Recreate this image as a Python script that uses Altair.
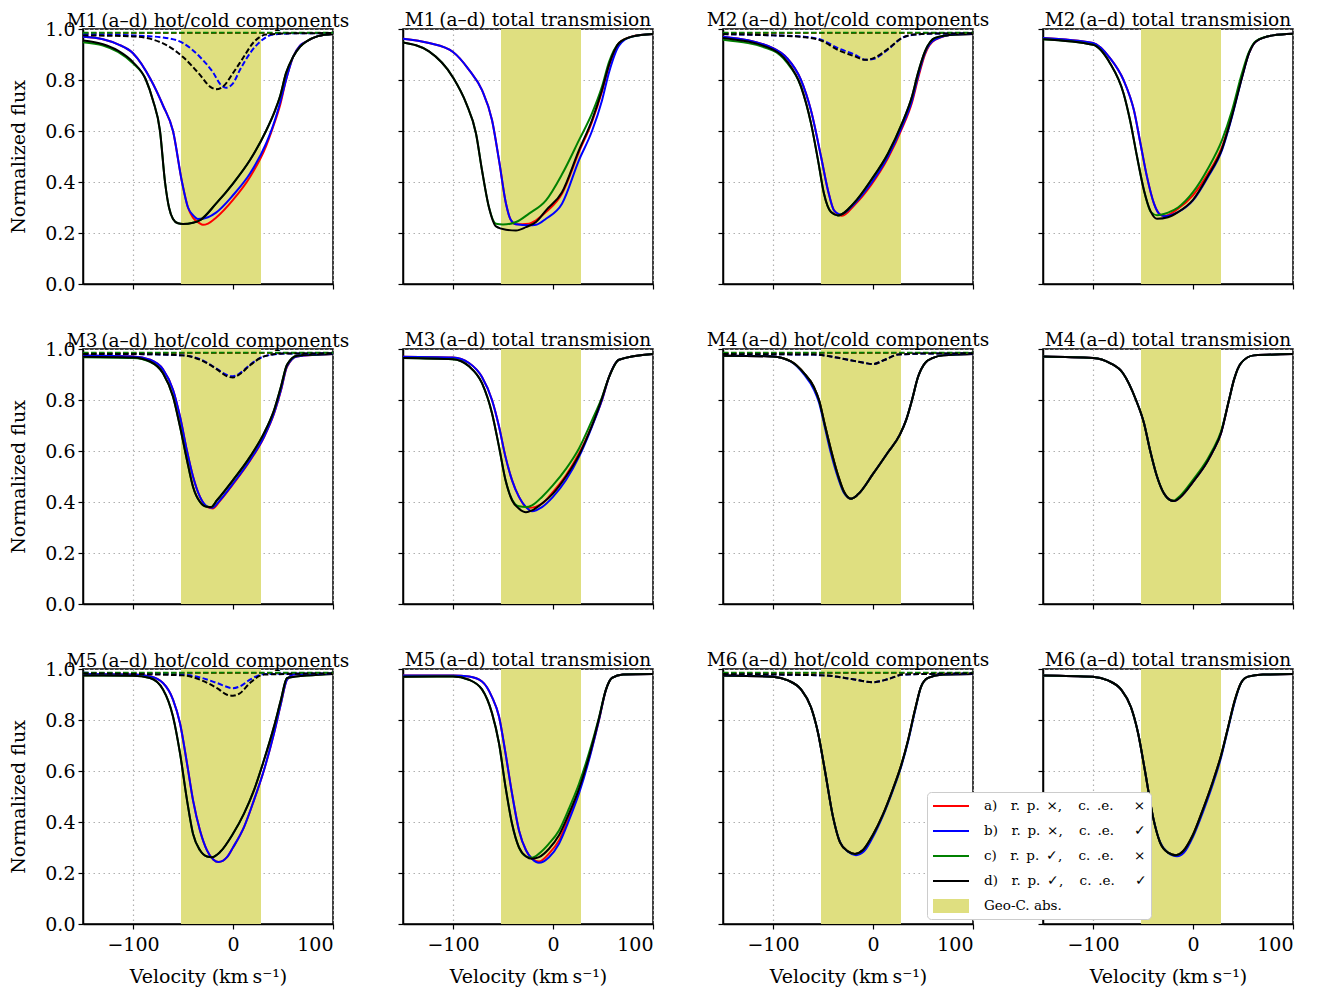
import altair as alt
import pandas as pd

# ---------------- data ----------------
VEL_RANGE = [-150, 100]
FLUX_RANGE = [0.0, 1.0]
GEO_BAND = [-52, 28]
X_TICKS = [-100, 0, 100]
Y_TICKS = [0.0, 0.2, 0.4, 0.6, 0.8, 1.0]

EM, EN, TH = "\u2003", "\u2002", "\u2009"
SERIES = [
    "a)" + EM + "r." + EN + "p." + EN + "\u00d7," + EM + TH + "c." + EN + ".e." + EM + EN + "\u00d7",
    "b)" + EM + "r." + EN + "p." + EN + "\u00d7," + EM + TH + "c." + EN + ".e." + EM + EN + "\u2713",
    "c)" + EM + "r." + EN + "p." + EN + "\u2713," + EM + TH + "c." + EN + ".e." + EM + EN + "\u00d7",
    "d)" + EM + "r." + EN + "p." + EN + "\u2713," + EM + TH + "c." + EN + ".e." + EM + EN + "\u2713",
]
GEO_LABEL = "Geo-C. abs."
COLORS = ["#ff0000", "#0000ff", "#008000", "#000000", "#dfdf80"]
SHAPES = ["M-1.8,0H1.8", "M-1.8,0H1.8", "M-1.8,0H1.8", "M-1.8,0H1.8", "M-1.7,-0.6H1.7V0.6H-1.7Z"]

TITLES = [
    "M1\u2009(a\u2013d) hot/cold components", "M1\u2009(a\u2013d) total transmision",
    "M2\u2009(a\u2013d) hot/cold components", "M2\u2009(a\u2013d) total transmision",
    "M3\u2009(a\u2013d) hot/cold components", "M3\u2009(a\u2013d) total transmision",
    "M4\u2009(a\u2013d) hot/cold components", "M4\u2009(a\u2013d) total transmision",
    "M5\u2009(a\u2013d) hot/cold components", "M5\u2009(a\u2013d) total transmision",
    "M6\u2009(a\u2013d) hot/cold components", "M6\u2009(a\u2013d) total transmision",
]

# dashed (cold component) curves that show no absorption
FLAT_RED = [(-150, 0.984), (-50, 0.984), (0, 0.984), (100, 0.984)]
FLAT_GREEN = [(-150, 0.985), (-50, 0.985), (0, 0.985), (100, 0.985)]

# ---- M1 hot/cold ----
M1H_A = [(-150, 0.97), (-130, 0.96), (-115, 0.94), (-100, 0.905), (-82, 0.80), (-70, 0.70), (-60, 0.60),
         (-51, 0.40), (-45, 0.30), (-40, 0.26), (-34, 0.24), (-30, 0.232), (-25, 0.237), (-17, 0.26), (0, 0.33),
         (17, 0.42), (33, 0.54), (40, 0.615), (47, 0.70), (53, 0.80), (60, 0.89), (67, 0.935), (73, 0.95),
         (85, 0.972), (100, 0.98)]
M1H_B = [(-150, 0.97), (-130, 0.96), (-115, 0.94), (-100, 0.905), (-82, 0.80), (-70, 0.70), (-60, 0.60),
         (-51, 0.40), (-45, 0.30), (-40, 0.27), (-35, 0.255), (-25, 0.262), (-17, 0.28), (0, 0.348),
         (17, 0.433), (33, 0.55), (40, 0.62), (47, 0.71), (53, 0.80), (60, 0.89), (67, 0.935), (73, 0.95),
         (85, 0.972), (100, 0.98)]
M1H_C = [(-150, 0.948), (-130, 0.935), (-115, 0.91), (-100, 0.865), (-87, 0.80), (-80, 0.72), (-73, 0.60),
         (-68, 0.40), (-64, 0.30), (-60, 0.255), (-55, 0.238), (-50, 0.235), (-40, 0.24), (-33, 0.25),
         (-17, 0.315), (0, 0.394), (17, 0.486), (33, 0.60), (42, 0.68), (47, 0.735), (53, 0.827), (60, 0.89),
         (67, 0.93), (73, 0.95), (85, 0.972), (100, 0.98)]
M1H_D = [(-150, 0.955), (-130, 0.94), (-115, 0.915), (-100, 0.87), (-87, 0.80), (-80, 0.72), (-73, 0.60),
         (-68, 0.40), (-64, 0.30), (-60, 0.255), (-55, 0.238), (-50, 0.235), (-40, 0.24), (-33, 0.25),
         (-17, 0.315), (0, 0.394), (17, 0.486), (33, 0.60), (42, 0.68), (47, 0.735), (53, 0.827), (60, 0.89),
         (67, 0.93), (73, 0.95), (85, 0.972), (100, 0.98)]
M1H_BD = [(-150, 0.98), (-100, 0.975), (-67, 0.965), (-50, 0.945), (-33, 0.89), (-20, 0.83), (-12, 0.78),
          (-7, 0.77), (0, 0.787), (7, 0.84), (17, 0.905), (27, 0.95), (40, 0.978), (60, 0.983), (100, 0.984)]
M1H_DD = [(-150, 0.975), (-100, 0.971), (-67, 0.938), (-50, 0.89), (-33, 0.82), (-23, 0.774), (-17, 0.764),
          (-10, 0.774), (0, 0.827), (10, 0.886), (20, 0.945), (33, 0.978), (60, 0.983), (100, 0.984)]

# ---- M1 total ----
M1T_A = [(-150, 0.962), (-124, 0.945), (-100, 0.91), (-84, 0.84), (-71, 0.76), (-61, 0.643), (-54, 0.486),
         (-47, 0.315), (-42, 0.25), (-37, 0.234), (-24, 0.236), (-17, 0.25), (-7, 0.282), (9, 0.354),
         (26, 0.518), (39, 0.636), (49, 0.755), (56, 0.855), (66, 0.945), (79, 0.971), (100, 0.98)]
M1T_B = [(-150, 0.962), (-124, 0.945), (-100, 0.91), (-84, 0.84), (-71, 0.76), (-61, 0.643), (-54, 0.486),
         (-47, 0.315), (-42, 0.25), (-37, 0.234), (-24, 0.23), (-17, 0.232), (-7, 0.256), (9, 0.315),
         (26, 0.486), (39, 0.60), (49, 0.72), (56, 0.83), (66, 0.935), (79, 0.97), (100, 0.98)]
M1T_C = [(-150, 0.947), (-124, 0.912), (-100, 0.81), (-87, 0.71), (-77, 0.59), (-71, 0.446), (-64, 0.30),
         (-57, 0.236), (-50, 0.233), (-37, 0.243), (-24, 0.276), (-7, 0.328), (9, 0.43), (26, 0.564),
         (39, 0.669), (49, 0.774), (56, 0.87), (66, 0.945), (79, 0.97), (100, 0.98)]
M1T_D = [(-150, 0.947), (-124, 0.912), (-100, 0.81), (-87, 0.71), (-77, 0.59), (-71, 0.446), (-64, 0.30),
         (-57, 0.226), (-47, 0.213), (-37, 0.21), (-27, 0.223), (-17, 0.243), (-7, 0.289), (9, 0.36),
         (26, 0.525), (39, 0.643), (49, 0.761), (56, 0.86), (66, 0.945), (79, 0.97), (100, 0.98)]

# ---- M2 hot/cold ----
M2H_A = [(-150, 0.97), (-100, 0.925), (-86, 0.886), (-72, 0.80), (-62, 0.68), (-52, 0.50), (-45, 0.367),
         (-39, 0.289), (-31, 0.268), (-18.5, 0.31), (-2, 0.388), (15, 0.494), (29, 0.61), (39, 0.712),
         (45, 0.805), (52, 0.90), (62, 0.957), (82, 0.978), (100, 0.98)]
M2H_B = [(-150, 0.97), (-100, 0.925), (-86, 0.886), (-72, 0.80), (-62, 0.68), (-52, 0.50), (-45, 0.367),
         (-39, 0.289), (-32, 0.273), (-18.5, 0.315), (-2, 0.394), (15, 0.50), (29, 0.617), (39, 0.72),
         (45, 0.814), (52, 0.906), (62, 0.958), (82, 0.978), (100, 0.98)]
M2H_C = [(-150, 0.958), (-100, 0.915), (-86, 0.868), (-72, 0.774), (-62, 0.63), (-55, 0.486), (-49, 0.354),
         (-42, 0.282), (-35, 0.269), (-18.5, 0.32), (-2, 0.407), (15, 0.512), (29, 0.63), (39, 0.735),
         (45, 0.827), (52, 0.912), (62, 0.965), (82, 0.978), (100, 0.98)]
M2H_D = [(-150, 0.965), (-100, 0.919), (-86, 0.873), (-72, 0.774), (-62, 0.63), (-55, 0.486), (-49, 0.354),
         (-42, 0.282), (-35, 0.269), (-18.5, 0.32), (-2, 0.407), (15, 0.512), (29, 0.63), (39, 0.735),
         (45, 0.827), (52, 0.912), (62, 0.965), (82, 0.978), (100, 0.98)]
M2H_BD = [(-150, 0.98), (-100, 0.975), (-69, 0.97), (-52, 0.958), (-35, 0.925), (-18.5, 0.90), (-7, 0.879),
          (0, 0.882), (15, 0.92), (29, 0.965), (42, 0.978), (60, 0.982), (100, 0.983)]
M2H_DD = [(-150, 0.98), (-100, 0.975), (-69, 0.968), (-52, 0.955), (-35, 0.918), (-18.5, 0.893), (-8, 0.879),
          (0, 0.885), (15, 0.922), (29, 0.965), (42, 0.978), (60, 0.982), (100, 0.983)]

# ---- M2 total ----
M2T_A = [(-150, 0.965), (-100, 0.945), (-83, 0.886), (-69.5, 0.80), (-59, 0.68), (-52.5, 0.55), (-46, 0.42),
         (-39, 0.315), (-34, 0.276), (-29, 0.266), (-15, 0.295), (0, 0.348), (15, 0.433), (29, 0.538),
         (39, 0.666), (49, 0.815), (56, 0.905), (63, 0.951), (80, 0.975), (100, 0.981)]
M2T_B = [(-150, 0.965), (-100, 0.945), (-83, 0.886), (-69.5, 0.80), (-59, 0.68), (-52.5, 0.55), (-46, 0.42),
         (-39, 0.315), (-34, 0.276), (-29, 0.266), (-15, 0.282), (0, 0.328), (15, 0.42), (29, 0.525),
         (39, 0.656), (49, 0.81), (56, 0.905), (63, 0.951), (80, 0.975), (100, 0.981)]
M2T_C = [(-150, 0.96), (-100, 0.938), (-83, 0.866), (-69.5, 0.748), (-63, 0.643), (-56, 0.50), (-49, 0.367),
         (-42, 0.282), (-36, 0.27), (-25, 0.28), (-15, 0.30), (0, 0.36), (15, 0.453), (29, 0.564),
         (39, 0.68), (49, 0.827), (56, 0.91), (63, 0.953), (80, 0.975), (100, 0.981)]
M2T_D = [(-150, 0.96), (-100, 0.938), (-83, 0.866), (-69.5, 0.748), (-63, 0.643), (-56, 0.50), (-49, 0.367),
         (-42, 0.282), (-36, 0.256), (-25, 0.262), (-15, 0.282), (0, 0.33), (15, 0.424), (29, 0.53),
         (39, 0.66), (49, 0.81), (56, 0.905), (63, 0.951), (80, 0.975), (100, 0.981)]

# ---- M3 hot/cold ----
M3H_A = [(-150, 0.975), (-100, 0.971), (-83, 0.958), (-70, 0.92), (-60, 0.84), (-53, 0.735), (-46, 0.60),
         (-40, 0.50), (-33, 0.42), (-26, 0.381), (-20, 0.375), (-13, 0.405), (0, 0.47), (17, 0.562),
         (31, 0.654), (41, 0.746), (48, 0.838), (54, 0.93), (64, 0.971), (100, 0.98)]
M3H_B = [(-150, 0.975), (-100, 0.971), (-83, 0.958), (-70, 0.92), (-60, 0.84), (-53, 0.735), (-46, 0.60),
         (-40, 0.50), (-33, 0.42), (-26, 0.383), (-21, 0.377), (-13, 0.407), (0, 0.472), (17, 0.564),
         (31, 0.656), (41, 0.748), (48, 0.84), (54, 0.932), (64, 0.971), (100, 0.98)]
M3H_C = [(-150, 0.968), (-100, 0.965), (-83, 0.95), (-70, 0.905), (-60, 0.814), (-53, 0.696), (-46, 0.564),
         (-40, 0.46), (-33, 0.40), (-26, 0.381), (-22, 0.38), (-16, 0.407), (0, 0.486), (17, 0.577),
         (31, 0.67), (41, 0.76), (48, 0.853), (54, 0.938), (64, 0.974), (100, 0.98)]
M3H_D = [(-150, 0.97), (-100, 0.967), (-83, 0.951), (-70, 0.905), (-60, 0.814), (-53, 0.696), (-46, 0.564),
         (-40, 0.46), (-33, 0.40), (-26, 0.381), (-22, 0.38), (-16, 0.407), (0, 0.486), (17, 0.577),
         (31, 0.67), (41, 0.76), (48, 0.853), (54, 0.938), (64, 0.974), (100, 0.98)]
M3H_BD = [(-150, 0.98), (-100, 0.98), (-50, 0.975), (-33, 0.96), (-16, 0.922), (-6, 0.898), (0, 0.893),
          (7, 0.905), (17, 0.938), (31, 0.971), (51, 0.982), (100, 0.983)]
M3H_DD = [(-150, 0.98), (-100, 0.98), (-50, 0.975), (-33, 0.958), (-16, 0.92), (-6, 0.893), (0, 0.888),
          (7, 0.902), (17, 0.936), (31, 0.971), (51, 0.982), (100, 0.983)]

# ---- M3 total ----
M3T_A = [(-150, 0.97), (-100, 0.967), (-84, 0.945), (-71, 0.89), (-61, 0.80), (-54, 0.696), (-47.5, 0.577),
         (-41, 0.486), (-34, 0.42), (-27, 0.38), (-24, 0.377), (-11, 0.394), (0, 0.44), (13, 0.505),
         (26, 0.59), (39, 0.70), (49, 0.80), (56, 0.89), (66, 0.958), (100, 0.98)]
M3T_B = [(-150, 0.97), (-100, 0.967), (-84, 0.945), (-71, 0.89), (-61, 0.80), (-54, 0.696), (-47.5, 0.577),
         (-41, 0.486), (-34, 0.42), (-27, 0.38), (-21, 0.364), (-11, 0.38), (0, 0.42), (13, 0.486),
         (26, 0.577), (39, 0.696), (49, 0.80), (56, 0.89), (66, 0.958), (100, 0.98)]
M3T_C = [(-150, 0.965), (-100, 0.96), (-84, 0.932), (-71, 0.866), (-61, 0.748), (-54, 0.617), (-47.5, 0.486),
         (-41, 0.41), (-34, 0.383), (-27, 0.38), (-21, 0.387), (-11, 0.42), (0, 0.466), (13, 0.53),
         (26, 0.61), (39, 0.72), (49, 0.81), (56, 0.89), (66, 0.958), (100, 0.98)]
M3T_D = [(-150, 0.965), (-100, 0.96), (-84, 0.932), (-71, 0.866), (-61, 0.748), (-54, 0.617), (-47.5, 0.486),
         (-41, 0.407), (-34, 0.374), (-27, 0.36), (-21, 0.367), (-11, 0.394), (0, 0.433), (13, 0.50),
         (26, 0.584), (39, 0.70), (49, 0.807), (56, 0.89), (66, 0.958), (100, 0.98)]

# ---- M4 hot/cold ----
M4H_A = [(-150, 0.974), (-100, 0.971), (-82, 0.951), (-69, 0.905), (-59, 0.85), (-54, 0.80), (-48, 0.70),
         (-42, 0.604), (-35, 0.505), (-29, 0.44), (-22, 0.413), (-15, 0.43), (0, 0.51), (15, 0.595),
         (27, 0.665), (33, 0.72), (39, 0.80), (45, 0.89), (52, 0.945), (60, 0.965), (70, 0.975), (100, 0.98)]
M4H_B = [(-150, 0.974), (-100, 0.971), (-82, 0.95), (-69, 0.9), (-59, 0.84), (-54, 0.79), (-48, 0.69),
         (-42, 0.59), (-35, 0.495), (-29, 0.435), (-22, 0.413), (-15, 0.43), (0, 0.51), (15, 0.595),
         (27, 0.665), (33, 0.72), (39, 0.80), (45, 0.89), (52, 0.945), (60, 0.965), (70, 0.975), (100, 0.98)]
M4H_C = M4H_A
M4H_D = M4H_A
M4H_BD = [(-150, 0.98), (-59, 0.978), (-25, 0.958), (-8, 0.945), (0, 0.941), (12, 0.958), (25, 0.978),
          (50, 0.982), (100, 0.983)]
M4H_DD = M4H_BD

# ---- M4 total ----
M4T_A = [(-150, 0.971), (-100, 0.965), (-83, 0.945), (-70, 0.905), (-57, 0.80), (-49, 0.709), (-43, 0.604),
         (-36, 0.50), (-29, 0.433), (-22.5, 0.407), (-19, 0.404), (-12.5, 0.42), (0, 0.479), (14.5, 0.56),
         (20, 0.60), (28, 0.67), (36, 0.80), (41, 0.88), (48, 0.945), (61, 0.975), (100, 0.98)]
M4T_B = M4T_A
M4T_C = [(-150, 0.971), (-100, 0.965), (-83, 0.945), (-70, 0.905), (-57, 0.80), (-49, 0.709), (-43, 0.604),
         (-36, 0.50), (-29, 0.433), (-22.5, 0.407), (-19, 0.406), (-12.5, 0.426), (0, 0.487), (14.5, 0.568),
         (20, 0.607), (28, 0.676), (36, 0.80), (41, 0.88), (48, 0.945), (61, 0.975), (100, 0.98)]
M4T_D = M4T_A

# ---- M5 hot/cold ----
M5H_A = [(-150, 0.98), (-100, 0.978), (-83, 0.971), (-70, 0.945), (-60, 0.88), (-53, 0.787), (-46, 0.63),
         (-40, 0.486), (-33, 0.367), (-26, 0.289), (-19.5, 0.252), (-14.5, 0.243), (-6, 0.262), (0, 0.30),
         (11, 0.38), (21, 0.486), (31, 0.604), (41, 0.748), (48, 0.866), (54, 0.958), (61, 0.978), (100, 0.98)]
M5H_B = M5H_A
M5H_C = [(-150, 0.975), (-100, 0.974), (-83, 0.965), (-70, 0.92), (-60, 0.814), (-53, 0.67), (-46, 0.486),
         (-40, 0.354), (-33, 0.289), (-26, 0.265), (-21, 0.262), (-13, 0.282), (0, 0.354), (11, 0.433),
         (21, 0.525), (31, 0.643), (41, 0.774), (48, 0.88), (54, 0.965), (100, 0.98)]
M5H_D = M5H_C
M5H_BD = [(-150, 0.985), (-50, 0.978), (-33, 0.967), (-16, 0.945), (0, 0.925), (7, 0.932), (17, 0.958),
          (31, 0.98), (100, 0.983)]
M5H_DD = [(-150, 0.983), (-50, 0.975), (-33, 0.958), (-16, 0.925), (-6, 0.899), (0, 0.895), (7, 0.905),
          (17, 0.945), (31, 0.978), (100, 0.983)]

# ---- M5 total ----
M5T_A = [(-150, 0.975), (-100, 0.975), (-84, 0.971), (-71, 0.951), (-61, 0.89), (-54, 0.814), (-47.5, 0.67),
         (-41, 0.512), (-34, 0.367), (-27, 0.289), (-21, 0.256), (-14, 0.245), (-4, 0.276), (6, 0.328),
         (16, 0.42), (26, 0.525), (36, 0.65), (46, 0.80), (53, 0.919), (59, 0.965), (70, 0.978), (100, 0.98)]
M5T_B = [(-150, 0.975), (-100, 0.975), (-84, 0.971), (-71, 0.951), (-61, 0.89), (-54, 0.814), (-47.5, 0.67),
         (-41, 0.512), (-34, 0.367), (-27, 0.289), (-21, 0.256), (-14, 0.24), (-4, 0.262), (6, 0.315),
         (16, 0.407), (26, 0.512), (36, 0.643), (46, 0.80), (53, 0.919), (59, 0.965), (70, 0.978), (100, 0.98)]
M5T_C = [(-150, 0.97), (-100, 0.971), (-84, 0.958), (-71, 0.92), (-61, 0.827), (-54, 0.709), (-47.5, 0.538),
         (-41, 0.394), (-34, 0.30), (-27, 0.265), (-21, 0.26), (-14, 0.276), (-4, 0.315), (6, 0.367),
         (16, 0.453), (26, 0.55), (36, 0.67), (46, 0.81), (53, 0.92), (59, 0.965), (70, 0.978), (100, 0.98)]
M5T_D = [(-150, 0.97), (-100, 0.971), (-84, 0.958), (-71, 0.92), (-61, 0.827), (-54, 0.709), (-47.5, 0.538),
         (-41, 0.394), (-34, 0.30), (-27, 0.265), (-21, 0.256), (-14, 0.262), (-4, 0.295), (6, 0.348),
         (16, 0.433), (26, 0.53), (36, 0.656), (46, 0.807), (53, 0.919), (59, 0.965), (70, 0.978), (100, 0.98)]

# ---- M6 hot/cold ----
M6H_A = [(-150, 0.975), (-100, 0.97), (-85, 0.955), (-72, 0.92), (-62, 0.85), (-55, 0.75), (-48, 0.60),
         (-40, 0.42), (-33, 0.32), (-25, 0.285), (-18, 0.275), (-10, 0.29), (0, 0.35), (10, 0.43), (20, 0.53),
         (28, 0.62), (35, 0.72), (42, 0.84), (48, 0.93), (55, 0.965), (70, 0.978), (100, 0.98)]
M6H_B = [(-150, 0.975), (-100, 0.97), (-85, 0.955), (-72, 0.92), (-62, 0.85), (-55, 0.75), (-48, 0.60),
         (-40, 0.42), (-33, 0.322), (-25, 0.283), (-17, 0.27), (-9, 0.285), (0, 0.342), (10, 0.425),
         (20, 0.525), (28, 0.615), (35, 0.715), (42, 0.835), (48, 0.93), (55, 0.965), (70, 0.978), (100, 0.98)]
M6H_C = M6H_A
M6H_D = M6H_A
M6H_BD = [(-150, 0.98), (-50, 0.975), (-20, 0.96), (0, 0.948), (15, 0.96), (30, 0.978), (100, 0.983)]
M6H_DD = M6H_BD

# ---- M6 total ----
M6T_A = [(-150, 0.975), (-100, 0.97), (-85, 0.955), (-72, 0.92), (-62, 0.85), (-55, 0.75), (-48, 0.60),
         (-40, 0.42), (-33, 0.32), (-25, 0.28), (-17, 0.27), (-10, 0.285), (0, 0.35), (10, 0.45), (20, 0.56),
         (28, 0.66), (35, 0.77), (42, 0.88), (48, 0.945), (55, 0.97), (70, 0.978), (100, 0.98)]
M6T_B = [(-150, 0.975), (-100, 0.97), (-85, 0.955), (-72, 0.92), (-62, 0.85), (-55, 0.75), (-48, 0.60),
         (-40, 0.42), (-33, 0.322), (-25, 0.28), (-16, 0.266), (-9, 0.28), (0, 0.342), (10, 0.44), (20, 0.55),
         (28, 0.652), (35, 0.765), (42, 0.875), (48, 0.945), (55, 0.97), (70, 0.978), (100, 0.98)]
M6T_C = M6T_A
M6T_D = M6T_A

PANELS = [
    ([M1H_A, M1H_B, M1H_C, M1H_D], [FLAT_RED, M1H_BD, FLAT_GREEN, M1H_DD]),
    ([M1T_A, M1T_B, M1T_C, M1T_D], None),
    ([M2H_A, M2H_B, M2H_C, M2H_D], [FLAT_RED, M2H_BD, FLAT_GREEN, M2H_DD]),
    ([M2T_A, M2T_B, M2T_C, M2T_D], None),
    ([M3H_A, M3H_B, M3H_C, M3H_D], [FLAT_RED, M3H_BD, FLAT_GREEN, M3H_DD]),
    ([M3T_A, M3T_B, M3T_C, M3T_D], None),
    ([M4H_A, M4H_B, M4H_C, M4H_D], [FLAT_RED, M4H_BD, FLAT_GREEN, M4H_DD]),
    ([M4T_A, M4T_B, M4T_C, M4T_D], None),
    ([M5H_A, M5H_B, M5H_C, M5H_D], [FLAT_RED, M5H_BD, FLAT_GREEN, M5H_DD]),
    ([M5T_A, M5T_B, M5T_C, M5T_D], None),
    ([M6H_A, M6H_B, M6H_C, M6H_D], [FLAT_RED, M6H_BD, FLAT_GREEN, M6H_DD]),
    ([M6T_A, M6T_B, M6T_C, M6T_D], None),
]

# ---------------- chart construction ----------------
FONT = "DejaVu Serif"
FS = 19
TFS = 18.5
DOMAIN = SERIES + [GEO_LABEL]

legend = alt.Legend(
    title=None, orient="none", legendX=844, legendY=763,
    symbolSize=400, symbolOffset=10, symbolStrokeWidth=2,
    labelFont=FONT, labelFontSize=13.5, labelOffset=22, labelLimit=400, rowPadding=7,
    labelColor="black", fillColor="white", strokeColor="#cccccc", cornerRadius=4, padding=3,
)
color_enc = alt.Color("series:N", scale=alt.Scale(domain=DOMAIN, range=COLORS), legend=legend)
shape_enc = alt.Shape("series:N", scale=alt.Scale(domain=DOMAIN, range=SHAPES), legend=legend)
xscale = alt.Scale(domain=VEL_RANGE, nice=False, zero=False)
yscale = alt.Scale(domain=FLUX_RANGE, nice=False, zero=False)


def rows_for(curves, style):
    out = []
    for s, pts in zip(SERIES, curves):
        for v, f in pts:
            out.append({"v": v, "f": f, "series": s, "style": style})
    return out


def make_panel(i):
    row, col = divmod(i, 4)
    solid, dashed = PANELS[i]
    xaxis = alt.Axis(values=X_TICKS, labels=(row == 2), format="d",
                     title="Velocity (km\u2009s\u207b\u00b9)" if row == 2 else None)
    yaxis = alt.Axis(values=Y_TICKS, labels=(col == 0), format=".1f",
                     title="Normalized flux" if col == 0 else None)
    xe = alt.X("v:Q", scale=xscale, axis=xaxis)
    ye = alt.Y("f:Q", scale=yscale, axis=yaxis)
    band_df = pd.DataFrame({"v0": [GEO_BAND[0]], "v1": [GEO_BAND[1]], "series": [GEO_LABEL]})
    band = alt.Chart(band_df).mark_rect().encode(
        x=alt.X("v0:Q", scale=xscale, axis=xaxis), x2="v1:Q", color=color_enc)
    layers = [band]
    sdf = pd.DataFrame(rows_for(solid, "solid"))
    layers.append(alt.Chart(sdf).mark_line(interpolate="monotone", strokeWidth=2).encode(
        x=xe, y=ye, color=color_enc))
    if dashed is not None:
        ddf = pd.DataFrame(rows_for(dashed, "dashed"))
        layers.append(alt.Chart(ddf).mark_line(interpolate="monotone", strokeWidth=2,
                                               strokeDash=[5.5, 2.5]).encode(
            x=xe, y=ye, color=color_enc))
    if i == 0:
        empty = pd.DataFrame({"v": pd.Series([], dtype=float), "f": pd.Series([], dtype=float),
                              "series": pd.Series([], dtype=str)})
        layers.append(alt.Chart(empty).mark_point(filled=True, opacity=1).encode(
            x=xe, y=ye, color=color_enc, shape=shape_enc))
    return alt.layer(*layers).properties(
        width=250, height=255,
        title=alt.TitleParams(TITLES[i], font=FONT, fontSize=TFS, fontWeight="normal",
                              offset=-1, dy=9 if col == 0 else 0, limit=500,
                              anchor="middle", color="black"))


chart = alt.concat(*[make_panel(i) for i in range(12)], columns=4,
                   spacing=alt.RowColnumber(row=65, column=70), bounds="flush").properties(
    padding={"left": 1, "top": 2, "right": 5, "bottom": 5}
).configure_view(stroke="black", strokeWidth=1.5).configure_axis(
    domainColor="black", domainWidth=1.5, tickColor="black", tickSize=5, tickWidth=1.2,
    labelFont=FONT, labelFontSize=FS, labelColor="black",
    titleFont=FONT, titleFontSize=FS, titleFontWeight="normal", titleColor="black",
    gridColor="#b0b0b0", gridDash=[1.5, 3.5], gridWidth=1.2,
).configure_axisY(titlePadding=16, labelPadding=3).configure_axisX(titlePadding=13, labelPadding=6)

chart.save("out.html", embed_options={"renderer": "svg", "actions": False})
